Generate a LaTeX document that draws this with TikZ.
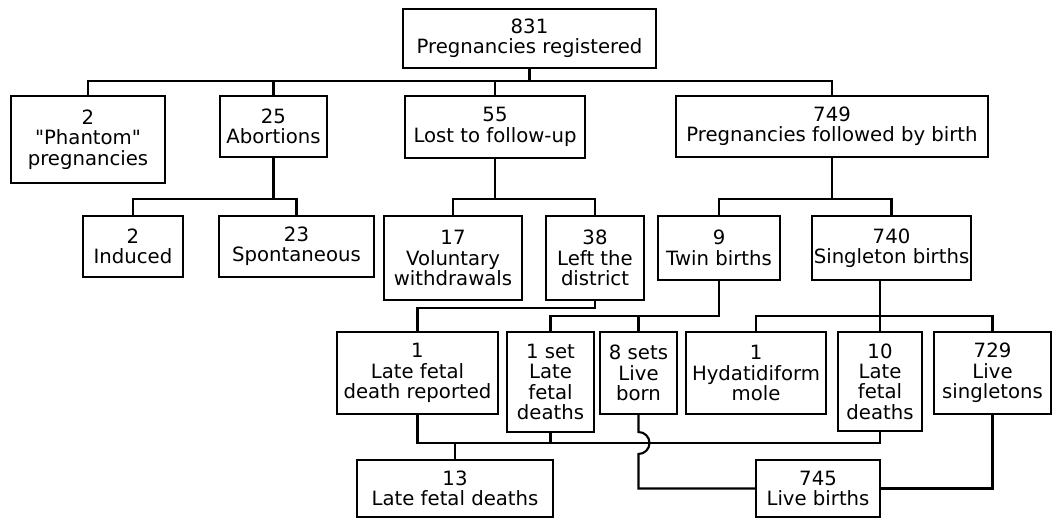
\documentclass[tikz,border=0pt]{standalone}
\usepackage{fontspec}
\setmainfont{DejaVu Sans}[Ligatures=TeXOff]
\tikzstyle{box} = [draw=black, line width=1.4pt, align=center, inner sep=0pt, font={\fontsize{11.2}{11.6}\selectfont}]
\tikzstyle{link} = [draw=black, line width=1.2pt]

\begin{document}
\begin{tikzpicture}[x=0.02cm, y=-0.02cm]
    \useasboundingbox (0,0) rectangle (1060,519);
    \node[box, minimum width=5.06cm, minimum height=1.18cm](reg) at (529.5,38.5){831\\Pregnancies registered};
    \node[box, minimum width=3.08cm, minimum height=1.74cm](phantom) at (88,139.5){2\\"Phantom"\\pregnancies};
    \node[box, minimum width=2.14cm, minimum height=1.22cm](abort) at (273.5,126.5){25\\Abortions};
    \node[box, minimum width=3.6cm, minimum height=1.24cm](lost) at (495,127){55\\Lost to follow-up};
    \node[box, minimum width=6.24cm, minimum height=1.22cm](births) at (832,126.5){749\\Pregnancies followed by birth};
    \node[box, minimum width=2.0cm, minimum height=1.22cm](induced) at (133,246.5){2\\Induced};
    \node[box, minimum width=3.1cm, minimum height=1.22cm](spont) at (296.5,246.5){23\\Spontaneous};
    \node[box, minimum width=2.76cm, minimum height=1.68cm](volun) at (453,258){17\\Voluntary\\withdrawals};
    \node[box, minimum width=1.96cm, minimum height=1.68cm](left) at (595,258){38\\Left the\\district};
    \node[box, minimum width=2.44cm, minimum height=1.28cm](twin) at (719,248){9\\Twin births};
    \node[box, minimum width=3.18cm, minimum height=1.28cm](single) at (891.5,248){740\\Singleton births};
    \node[box, minimum width=3.22cm, minimum height=1.64cm](reported) at (417.5,373){1\\Late fetal\\death reported};
    \node[box, minimum width=1.74cm, minimum height=2.0cm](oneset) at (550.5,382){1 set\\Late\\fetal\\deaths};
    \node[box, minimum width=1.54cm, minimum height=1.64cm](eight) at (638.5,373){8 sets\\Live\\born};
    \node[box, minimum width=2.8cm, minimum height=1.64cm](mole) at (756,373){1\\Hydatidiform\\mole};
    \node[box, minimum width=1.68cm, minimum height=1.98cm](ten) at (880,381.5){10\\Late\\fetal\\deaths};
    \node[box, minimum width=2.34cm, minimum height=1.64cm](live729) at (992.5,373){729\\Live\\singletons};
    \node[box, minimum width=3.92cm, minimum height=1.14cm](lfd13) at (455,488.5){13\\Late fetal deaths};
    \node[box, minimum width=2.48cm, minimum height=1.14cm](live745) at (818,488.5){745\\Live births};
    % first split
    \draw[link](reg.south)--(reg.south|-0,81);
    \draw[link](phantom.north)|-(births.north|-0,81)--(births.north);
    \draw[link](abort.north)--(abort.north|-0,81);
    \draw[link](lost.north)--(lost.north|-0,81);
    % second level
    \draw[link](abort.south)--(abort.south|-0,199);
    \draw[link](induced.north)|-(spont.north|-0,199)--(spont.north);
    \draw[link](lost.south)--(lost.south|-0,199);
    \draw[link](volun.north)|-(left.north|-0,199)--(left.north);
    \draw[link](births.south)--(births.south|-0,199);
    \draw[link](twin.north)|-(single.north|-0,199)--(single.north);
    % third level
    \draw[link](left.south)--(left.south|-0,308)-|(reported.north);
    \draw[link](twin.south)--(twin.south|-0,316)-|(oneset.north);
    \draw[link](eight.north)--(eight.north|-0,316);
    \draw[link](ten.north)--(ten.north|-single.south);
    \draw[link](mole.north)|-(live729.north|-0,316)--(live729.north);
    % totals
    \draw[link](reported.south)|-(ten.south|-0,443)--(ten.south);
    \draw[link](oneset.south)--(oneset.south|-0,443);
    \draw[link](lfd13.north)--(lfd13.north|-0,443);
    \draw[link](eight.south)--(eight.south|-0,432) arc[start angle=90, end angle=-90, radius=0.22cm]|-(live745.west);
    \draw[link](live729.south)|-(live745.east);
\end{tikzpicture}
\end{document}
